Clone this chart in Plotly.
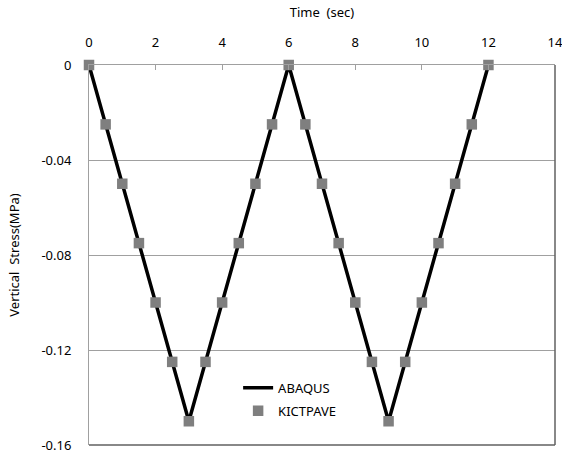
import plotly.graph_objects as go

# ABAQUS (line) vertices
abaqus_t = [0, 3, 6, 9, 12]
abaqus_s = [0, -0.15, 0, -0.15, 0]

# KICTPAVE (markers)
kict_t = [0, 0.5, 1, 1.5, 2, 2.5, 3, 3.5, 4, 4.5, 5, 5.5, 6,
          6.5, 7, 7.5, 8, 8.5, 9, 9.5, 10, 10.5, 11, 11.5, 12]
kict_s = [0, -0.025, -0.05, -0.075, -0.1, -0.125, -0.15, -0.125, -0.1, -0.075, -0.05, -0.025, 0,
          -0.025, -0.05, -0.075, -0.1, -0.125, -0.15, -0.125, -0.1, -0.075, -0.05, -0.025, 0]

x_ticks = [0, 2, 4, 6, 8, 10, 12, 14]
y_ticks = [0, -0.04, -0.08, -0.12, -0.16]
y_tick_text = ["0", "-0.04", "-0.08", "-0.12", "-0.16"]

FONT = "Noto Sans, DejaVu Sans, sans-serif"

fig = go.Figure()
fig.add_trace(go.Scatter(x=abaqus_t, y=abaqus_s, mode="lines", name="ABAQUS",
                         legendgroup="a",
                         line=dict(color="black", width=3.5), cliponaxis=False))
fig.add_trace(go.Scatter(x=kict_t, y=kict_s, mode="markers", name="KICTPAVE",
                         legendgroup="b",
                         marker=dict(symbol="square", size=10.5, color="#7f7f7f"),
                         cliponaxis=False))

# plot area border (bottom/right)
fig.add_shape(type="line", xref="paper", yref="paper", x0=0, y0=0, x1=1, y1=0,
              line=dict(color="#606060", width=1.5), layer="above")
fig.add_shape(type="line", xref="paper", yref="paper", x0=1, y0=0, x1=1, y1=1,
              line=dict(color="#606060", width=1.5), layer="above")

fig.update_layout(
    width=562, height=454,
    margin=dict(l=89, r=7, t=65, b=9, autoexpand=False),
    paper_bgcolor="white", plot_bgcolor="white",
    font=dict(family=FONT, size=13, color="black"),
    showlegend=True,
    legend=dict(x=0.32, y=0.19, xanchor="left", yanchor="top",
                bgcolor="rgba(0,0,0,0)", font=dict(size=13),
                itemwidth=30, tracegroupgap=3),
    xaxis=dict(range=[0, 14], tickvals=x_ticks, side="top",
               title=dict(text="Time  (sec)", standoff=12, font=dict(size=13)),
               showgrid=False, zeroline=False, showline=True, linecolor="#a0a0a0",
               ticks="inside", ticklen=5, tickcolor="#a0a0a0", ticklabelstandoff=12,
               ticklabeloverflow="allow", automargin=False),
    yaxis=dict(range=[-0.16, 0], tickvals=y_ticks, ticktext=y_tick_text,
               title=dict(text="Vertical  Stress(MPa)", standoff=18, font=dict(size=13)),
               showgrid=True, gridcolor="#a0a0a0", gridwidth=1,
               zeroline=False, showline=True, linecolor="#a0a0a0", ticks="",
               ticklabelstandoff=14, ticklabeloverflow="allow", automargin=False),
)

fig.write_html("out.html", config=dict(displayModeBar=False),
               post_script="document.body.style.margin='0';document.body.style.overflow='hidden';")
